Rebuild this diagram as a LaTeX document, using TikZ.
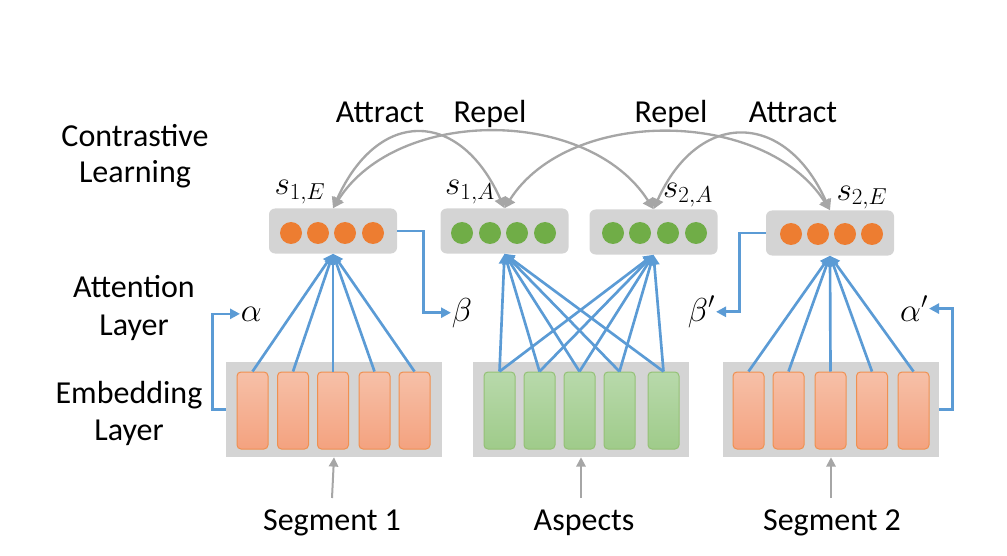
\documentclass[tikz,border=0pt]{standalone}
\usepackage{fontspec}
\setmainfont{Carlito}
\usetikzlibrary{arrows.meta,calc}
\definecolor{boxgray}{HTML}{D4D4D4}
\definecolor{dotorange}{HTML}{ED7D31}
\definecolor{dotgreen}{HTML}{70AD47}
\definecolor{linkblue}{HTML}{5B9BD5}
\definecolor{arcgray}{HTML}{A6A6A6}
\definecolor{orangetop}{HTML}{F6C0A8}
\definecolor{orangebot}{HTML}{F4A27F}
\definecolor{greentop}{HTML}{B8D9AB}
\definecolor{greenbot}{HTML}{9FCB8A}
\begin{document}
\begin{tikzpicture}[x=0.75pt,y=-0.75pt,
  lbl/.style={font=\fontsize{24}{29}\selectfont, inner sep=0pt, anchor=base},
  mlbl/.style={font=\fontsize{25}{30}\selectfont, inner sep=1pt},
  topbox/.style={fill=boxgray, rounded corners=4.5pt, minimum width=96pt, minimum height=33.75pt, inner sep=0pt},
  botbox/.style={fill=boxgray, minimum width=162pt, minimum height=71.25pt, inner sep=0pt},
  odot/.style={circle, fill=dotorange, minimum size=16.5pt, inner sep=0pt},
  gdot/.style={circle, fill=dotgreen, minimum size=16.5pt, inner sep=0pt},
  orect/.style={draw=dotorange!85, line width=0.75pt, rounded corners=3pt, top color=orangetop, bottom color=orangebot, minimum width=23.25pt, minimum height=57.75pt, inner sep=0pt},
  grect/.style={draw=dotgreen!75, line width=0.75pt, rounded corners=3pt, top color=greentop, bottom color=greenbot, minimum width=23.25pt, minimum height=57.75pt, inner sep=0pt},
  bluelink/.style={draw=linkblue, line width=2pt, -{Triangle[length=7.5pt,width=7.5pt]}},
  elbow/.style={draw=linkblue, line width=2pt, -{Triangle[length=7.5pt,width=7.5pt]}},
  arc/.style={draw=arcgray, line width=1.75pt, {Triangle[length=8pt,width=8.5pt]}-{Triangle[length=8pt,width=8.5pt]}},
  upar/.style={draw=arcgray, line width=1.5pt, -{Triangle[length=7pt,width=7pt]}}
]
\useasboundingbox (0,0) rectangle (1007,556);

% left labels
\node[lbl] (cl1) at (135,147) {Contrastive};
\node[lbl] (cl2) at (135,183) {Learning};
\node[lbl] (al1) at (134,297) {Attention};
\node[lbl] (al2) at (134,335) {Layer};
\node[lbl] (el1) at (129,403) {Embedding};
\node[lbl] (el2) at (129,440) {Layer};

% top labels
\node[lbl] (att1) at (380,123) {Attract};
\node[lbl] (rep1) at (490,123) {Repel};
\node[lbl] (rep2) at (671,123) {Repel};
\node[lbl] (att2) at (793,123) {Attract};

% top boxes
\node[topbox] (t1) at (333,231) {};
\node[topbox] (t2) at (504.5,231) {};
\node[topbox] (t3) at (653.5,232) {};
\node[topbox] (t4) at (830,233) {};
\foreach \x [count=\i] in {291,318,345,373} \node[odot] (d1\i) at (\x,233) {};
\foreach \x [count=\i] in {462,490,517,545} \node[gdot] (d2\i) at (\x,233) {};
\foreach \x [count=\i] in {613,640,668,696} \node[gdot] (d3\i) at (\x,233) {};
\foreach \x [count=\i] in {791,818,845,872} \node[odot] (d4\i) at (\x,234) {};

% s labels
\node[mlbl, anchor=base] (s1e) at (300,195) {$s_{1,E}$};
\node[mlbl, anchor=base] (s1a) at (470,195) {$s_{1,A}$};
\node[mlbl, anchor=base] (s2a) at (688,198) {$s_{2,A}$};
\node[mlbl, anchor=base] (s2e) at (862,200) {$s_{2,E}$};

% bottom boxes
\node[botbox] (bot1) at (334,409.5) {};
\node[botbox] (bot2) at (581,409.5) {};
\node[botbox] (bot3) at (831,409.5) {};
\foreach \x [count=\i] in {252.5,293,333,374.5,414.5} \node[orect] (a\i) at (\x,410.5) {};
\foreach \x [count=\i] in {499.5,539.5,579.5,619.5,663.5} \node[grect] (b\i) at (\x,410.5) {};
\foreach \x [count=\i] in {748.5,788.5,830.5,872,913.5} \node[orect] (c\i) at (\x,410.5) {};

% attention links
\foreach \i in {1,...,5} {
  \draw[bluelink] (a\i.north) -- (t1.south);
  \draw[bluelink] (b\i.north) -- (t2.south);
  \draw[bluelink] (b\i.north) -- (t3.south);
  \draw[bluelink] (c\i.north) -- (t4.south);
}

% greek labels
\node[mlbl, anchor=base west, inner sep=0.5pt] (alpha) at (240,321) {$\alpha$};
\node[mlbl, anchor=base west, inner sep=0.5pt] (beta) at (451,321) {$\beta$};
\node[mlbl, anchor=base east, inner sep=0.5pt] (betap) at (716,321) {$\beta'$};
\node[mlbl, anchor=base east, inner sep=0.5pt] (alphap) at (929,321) {$\alpha'$};

\draw[elbow] (bot1.west) -- ++(-13,0) |- (alpha.west);
\draw[elbow] (t1.east) -- ++(26,0) |- (beta.west);
\draw[elbow] (t4.west) -- ++(-26,0) |- (betap.east);
\draw[elbow] (bot3.east) -- ++(13,0) |- (alphap.east);

% contrastive arcs
\draw[arc] (t1.north) .. controls +(45,-100) and +(-45,-100) .. (t2.north);
\draw[arc] (t1.north) .. controls +(65,-102) and +(-65,-102) .. (t3.north);
\draw[arc] (t2.north) .. controls +(65,-102) and +(-65,-102) .. (t4.north);
\draw[arc] (t3.north) .. controls +(45,-100) and +(-45,-100) .. (t4.north);

% bottom labels and inputs
\node[lbl] (seg1) at (332,530) {Segment 1};
\node[lbl] (asp) at (584,530) {Aspects};
\node[lbl] (seg2) at (832,530) {Segment 2};
\coordinate (in1) at (332,498);
\coordinate (in2) at (581,498);
\coordinate (in3) at (831,498);
\draw[upar] (in1) -- (bot1.south);
\draw[upar] (in2) -- (bot2.south);
\draw[upar] (in3) -- (bot3.south);
\end{tikzpicture}
\end{document}
